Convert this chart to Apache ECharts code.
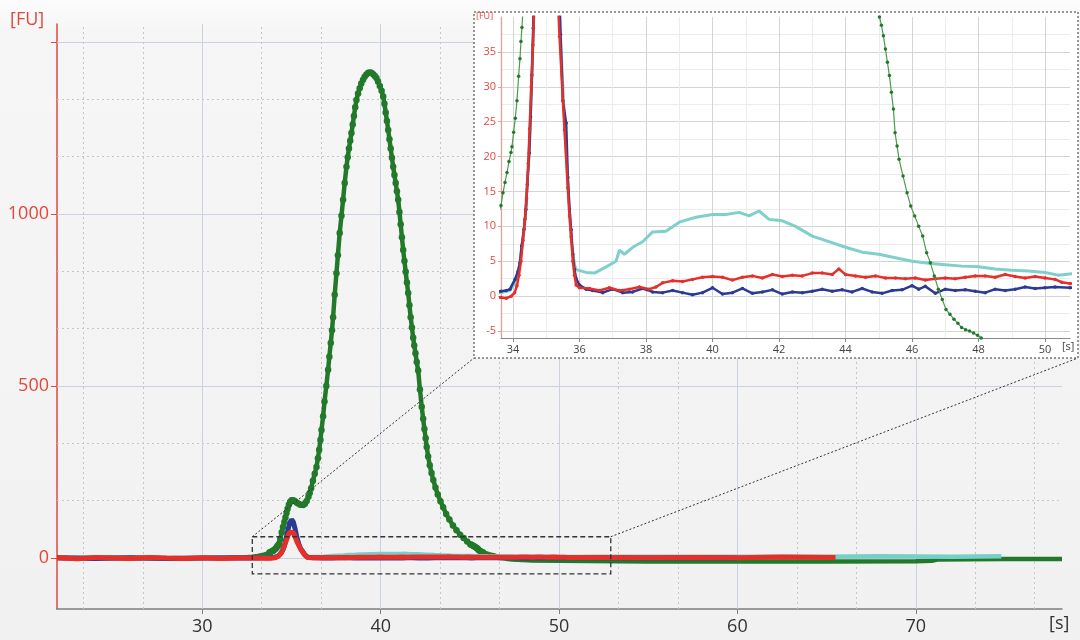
<!DOCTYPE html>
<html>
<head>
<meta charset="utf-8">
<style>
  html, body { margin: 0; padding: 0; background: #f4f4f4; }
  #main { width: 1080px; height: 640px; }
</style>
<script src="https://cdn.jsdelivr.net/npm/echarts@6/dist/echarts.min.js"></script>
</head>
<body>
<div id="main"></div>
<script>
// electropherogram traces, time in [s], signal in [FU]
var greenT = [21.85, 25, 28, 30, 31.5, 32.3, 32.8, 33.1, 33.4, 33.64, 33.7, 33.76, 33.82, 33.88, 33.94, 33.97, 34.02, 34.07, 34.12, 34.17,
  34.21, 34.24, 34.27, 34.3, 34.37, 34.45, 34.52, 34.6, 34.66, 34.72, 34.78, 34.85, 34.92, 35.0, 35.1, 35.2, 35.3, 35.4, 35.5, 35.65,
  35.75, 35.85, 35.95, 36.02, 36.1, 36.2, 36.3, 36.4, 36.48, 36.55, 36.62, 36.68, 36.77, 36.85, 36.95, 37.05, 37.12, 37.2, 37.27, 37.33,
  37.42, 37.52, 37.6, 37.7, 37.8, 37.89, 37.98, 38.08, 38.15, 38.22, 38.29, 38.36, 38.43, 38.5, 38.57, 38.64, 38.73, 38.82, 38.91, 39.01,
  39.1, 39.2, 39.3, 39.39, 39.48, 39.58, 39.67, 39.76, 39.85, 39.95, 40.05, 40.14, 40.21, 40.28, 40.35, 40.42, 40.49, 40.56, 40.63, 40.7,
  40.77, 40.84, 40.91, 40.98, 41.05, 41.12, 41.19, 41.26, 41.33, 41.4, 41.47, 41.54, 41.61, 41.68, 41.75, 41.82, 41.88, 41.95, 42.02, 42.1,
  42.2, 42.3, 42.38, 42.45, 42.52, 42.58, 42.66, 42.75, 42.85, 42.95, 43.07, 43.2, 43.35, 43.5, 43.67, 43.85, 44.05, 44.25, 44.45, 44.65,
  44.85, 45.02, 45.08, 45.14, 45.2, 45.26, 45.32, 45.38, 45.44, 45.49, 45.55, 45.61, 45.73, 45.85, 45.96, 46.08, 46.2, 46.32, 46.44, 46.55,
  46.67, 46.79, 46.91, 47.02, 47.14, 47.26, 47.38, 47.49, 47.61, 47.73, 47.85, 47.97, 48.08, 48.5, 50, 55, 60, 65, 70, 70.9,
  71.2, 75, 78.2];
var greenFU = [0, 1, -1, 0, 1, 2, 4, 6, 9, 13, 14.8, 16.3, 17.7, 19.3, 20.6, 21.4, 23.5, 25.5, 28, 31.5,
  34, 36.5, 38.5, 41, 55, 75, 90, 105, 118, 131, 143, 155, 163, 168, 168, 165, 161, 158, 155, 154,
  158, 166, 178, 189, 203, 225, 245, 265, 290, 315, 343, 372, 412, 455, 500, 547, 585, 625, 662, 700,
  765, 828, 880, 945, 995, 1041, 1090, 1137, 1165, 1190, 1213, 1235, 1260, 1285, 1310, 1331, 1350, 1365, 1379, 1390,
  1399, 1405, 1410, 1411, 1410, 1406, 1401, 1395, 1385, 1372, 1358, 1341, 1320, 1295, 1270, 1244, 1217, 1190, 1163, 1137,
  1113, 1090, 1066, 1041, 1006, 970, 932, 895, 863, 832, 801, 770, 735, 700, 670, 640, 618, 595, 570, 545,
  490, 440, 405, 375, 348, 323, 295, 270, 247, 227, 205, 185, 165, 148, 128, 112, 95, 81, 68, 58,
  48, 40, 38.8, 37.3, 35.4, 33.5, 31.6, 29.2, 26.8, 23.4, 21.5, 19.6, 17.2, 14.8, 12.9, 11.5, 10, 8.6, 6.2, 4.8,
  2.9, 1.0, -0.5, -1.9, -2.6, -3.3, -3.9, -4.5, -4.8, -5.0, -5.3, -5.6, -6.0, -7, -8, -10, -10, -10, -9, -8,
  -4, -3, -3];

var blueT = [21.85, 24, 26, 28, 30, 32, 33, 33.64, 33.8, 33.91, 34.06, 34.15, 34.21, 34.26, 34.33, 34.39, 34.43, 34.49, 34.53, 34.57,
  34.61, 34.7, 34.8, 34.9, 35.0, 35.1, 35.2, 35.3, 35.43, 35.5, 35.6, 35.65, 35.7, 35.75, 35.8, 35.85, 35.9, 36.0, 36.2, 36.4,
  36.7, 37.0, 37.3, 37.6, 37.9, 38.2, 38.5, 38.8, 39.1, 39.4, 39.7, 40.0, 40.3, 40.6, 40.9, 41.2, 41.5, 41.8, 42.1, 42.4,
  42.7, 43.0, 43.3, 43.6, 43.9, 44.2, 44.5, 44.8, 45.1, 45.4, 45.7, 46.0, 46.2, 46.4, 46.7, 47.0, 47.3, 47.6, 47.9, 48.2,
  48.5, 48.8, 49.1, 49.4, 49.7, 50.0, 50.3, 50.75, 52, 55, 58, 60];
var blueFU = [1, -1, 1, -1, 0, 1, 0.5, 0.7, 0.8, 1.0, 2.4, 3.5, 4.8, 7.2, 9.6, 12.4, 16, 20.5, 25.7, 31.7,
  38.4, 58, 82, 102, 112, 105, 85, 60, 37.5, 28, 24.8, 17, 12.5, 9.5, 6, 3.8, 2.5, 1.6, 1.0, 0.8,
  0.5, 1.0, 0.5, 0.6, 1.1, 0.6, 0.5, 0.8, 0.5, 0.2, 0.5, 1.2, 0.3, 0.5, 1.1, 0.4, 0.6, 0.9, 0.3, 0.6,
  0.5, 0.7, 1.0, 0.7, 0.9, 0.6, 1.1, 0.6, 0.4, 0.8, 0.9, 1.5, 1.0, 1.4, 0.4, 1.0, 0.8, 0.9, 0.7, 0.5,
  1.0, 0.8, 1.0, 1.3, 1.1, 1.2, 1.3, 1.2, 1, 0, 1, 0];

var redT = [21.85, 23, 24, 25, 26, 27, 28, 29, 30, 31, 32, 33, 33.64, 33.8, 33.95, 34.05, 34.12, 34.18, 34.24, 34.3,
  34.36, 34.41, 34.46, 34.5, 34.55, 34.6, 34.7, 34.8, 34.9, 35.0, 35.1, 35.2, 35.3, 35.4, 35.5, 35.55, 35.65, 35.7, 35.75, 35.8,
  35.85, 35.9, 36.0, 36.3, 36.6, 36.9, 37.2, 37.5, 37.8, 38.1, 38.3, 38.5, 38.8, 39.1, 39.4, 39.7, 40.0, 40.3, 40.6, 40.9,
  41.2, 41.5, 41.8, 42.1, 42.4, 42.7, 43.0, 43.3, 43.6, 43.8, 44.0, 44.3, 44.6, 44.9, 45.2, 45.5, 45.8, 46.1, 46.4, 46.7,
  47.0, 47.3, 47.6, 47.9, 48.2, 48.5, 48.8, 49.1, 49.4, 49.7, 50.0, 50.3, 50.5, 50.75, 52, 55, 58, 60, 62.5, 65.5];
var redFU = [1, -2, 2, 0, -1, 2, 0, -1, 1, -1, 0, 0, -0.2, -0.3, 0, 0.5, 1.5, 3, 5, 8,
  11, 14, 19, 24, 30, 36, 50, 65, 75, 78, 74, 62, 48, 37.2, 28, 23.8, 15.5, 11.5, 8.5, 5,
  3, 1.6, 1.2, 1.1, 0.8, 1.2, 0.8, 1.0, 1.3, 1.0, 1.3, 1.9, 2.2, 2.1, 2.4, 2.7, 2.8, 2.7, 2.3, 2.7,
  2.9, 2.6, 3.1, 2.8, 3.0, 2.9, 3.3, 3.3, 3.1, 3.9, 3.1, 2.9, 2.7, 2.9, 2.6, 2.6, 2.5, 2.6, 2.3, 2.5,
  2.6, 2.5, 2.7, 2.9, 2.9, 2.7, 3.1, 2.8, 2.6, 2.8, 2.6, 2.4, 2.0, 1.8, 2, 1, 2, 1, 3, 2];

var cyanT = [22, 27, 33, 33.64, 33.9, 34.05, 34.2, 34.35, 34.5, 34.6, 34.7, 34.85, 35.0, 35.15, 35.3, 35.45, 35.55, 35.65, 35.75, 35.85,
  35.9, 36.2, 36.45, 36.8, 37.1, 37.2, 37.35, 37.6, 37.9, 38.2, 38.6, 39.0, 39.5, 40.0, 40.4, 40.8, 41.1, 41.4, 41.7, 42.1,
  42.5, 43.0, 43.5, 44.0, 44.5, 45.0, 45.5, 46.0, 46.5, 47.0, 47.5, 48.0, 48.5, 49.0, 49.5, 50.0, 50.4, 50.8, 52, 55,
  60, 65, 68, 72, 74.8];
var cyanFU = [0, 0, 0.5, 0.5, 0.8, 1.8, 4.5, 10, 22, 36, 55, 70, 75, 68, 50, 35, 25, 16, 8, 4.5,
  3.8, 3.4, 3.3, 4.2, 5.0, 6.6, 6.0, 7.0, 7.8, 9.2, 9.3, 10.6, 11.3, 11.7, 11.7, 12.0, 11.5, 12.2, 11.0, 10.8,
  10.0, 8.6, 7.8, 7.0, 6.3, 6.0, 5.5, 5.0, 4.7, 4.5, 4.3, 4.2, 3.9, 3.7, 3.6, 3.4, 3.0, 3.2, 3.5, 4,
  4, 4, 5, 4, 5];

// tick positions
var mainXTicks = [30, 40, 50, 60, 70];
var mainXMinor = [23.33, 26.67, 33.33, 36.67, 43.33, 46.67, 53.33, 56.67, 63.33, 66.67, 73.33, 76.67];
var mainYTicks = [0, 500, 1000, 1500];
var mainYLabels = [0, 500, 1000];
var mainYMinor = [166.7, 333.3, 666.7, 833.3, 1166.7, 1333.3];
var insetXTicks = [34, 36, 38, 40, 42, 44, 46, 48, 50];
var insetXMinor = [35, 37, 39, 41, 43, 45, 47, 49];
var insetYTicks = [-5, 0, 5, 10, 15, 20, 25, 30, 35];
var insetYMinor = [-2.5, 2.5, 7.5, 12.5, 17.5, 22.5, 27.5, 32.5, 37.5];

// the region of the main plot that the inset magnifies
var zoomT = [32.8, 52.9];
var zoomFU = [-46, 62];

var FONT = '"Open Sans", "Noto Sans", sans-serif';
var RED = '#e2473c';

function pairs(t, v) {
  return t.map(function (x, i) { return [x, v[i]]; });
}

// axis used only to draw grid lines as long inside ticks
function gridAxis(dim, grid, min, max, values, len, color, dashed, z) {
  return {
    type: 'value', gridIndex: grid, min: min, max: max,
    position: dim === 'x' ? 'bottom' : 'left',
    z: z,
    axisLine: { show: false, onZero: false },
    axisLabel: { show: false },
    splitLine: { show: false },
    axisTick: {
      inside: true, length: len, customValues: values,
      lineStyle: { color: color, width: 1, type: dashed ? [2, 3] : 'solid' }
    }
  };
}

var plain = function (v) { return String(v); };

var myChart = echarts.init(document.getElementById('main'));

var mainW = 1005, mainH = 585, insW = 569, insH = 321;

var option = {
  animation: false,
  backgroundColor: new echarts.graphic.LinearGradient(0, 0, 0, 1, [
    { offset: 0, color: '#fcfcfc' }, { offset: 0.05, color: '#f6f6f6' }, { offset: 1, color: '#f1f1f1' }
  ]),
  textStyle: { fontFamily: FONT },
  grid: [
    { left: 57, top: 24, width: mainW, height: mainH },
    { left: 501, top: 17, width: insW, height: insH }
  ],
  xAxis: [
    {
      type: 'value', gridIndex: 0, min: 21.85, max: 78.2, position: 'bottom',
      axisLine: { onZero: false, lineStyle: { color: '#7d7d7d', width: 1.5 } },
      axisTick: { customValues: mainXTicks, length: 5, lineStyle: { color: '#7d7d7d' } },
      axisLabel: { customValues: mainXTicks, formatter: plain, color: '#333', fontSize: 18, margin: 9, fontFamily: FONT },
      splitLine: { show: false }
    },
    gridAxis('x', 0, 21.85, 78.2, mainXTicks, mainH, '#c9d1e2', false, 0),
    gridAxis('x', 0, 21.85, 78.2, mainXMinor, mainH, '#c6c6c6', true, 0),
    {
      type: 'value', gridIndex: 1, min: 33.64, max: 50.75, position: 'bottom', z: 12,
      axisLine: { onZero: false, lineStyle: { color: '#8a8a8a', width: 1 } },
      axisTick: { customValues: insetXTicks, length: 4, lineStyle: { color: '#8a8a8a' } },
      axisLabel: { customValues: insetXTicks, formatter: plain, color: '#444', fontSize: 11, margin: 6, fontFamily: FONT },
      splitLine: { show: false }
    },
    gridAxis('x', 1, 33.64, 50.75, insetXTicks, insH, '#d4d4d4', false, 11),
    gridAxis('x', 1, 33.64, 50.75, insetXMinor, insH, '#ececec', false, 11)
  ],
  yAxis: [
    {
      type: 'value', gridIndex: 0, min: -148, max: 1552, position: 'left',
      axisLine: { onZero: false, lineStyle: { color: RED, width: 1.5 } },
      axisTick: { customValues: mainYTicks, length: 6, lineStyle: { color: RED } },
      axisLabel: { customValues: mainYLabels, formatter: plain, color: RED, fontSize: 18, margin: 8, fontFamily: FONT },
      splitLine: { show: false }
    },
    gridAxis('y', 0, -148, 1552, mainYTicks, mainW, '#c9d1e2', false, 0),
    gridAxis('y', 0, -148, 1552, mainYMinor, mainW, '#c6c6c6', true, 0),
    {
      type: 'value', gridIndex: 1, min: -6, max: 40, position: 'left', z: 12,
      axisLine: { onZero: false, lineStyle: { color: '#f09a8e', width: 1.2 } },
      axisTick: { customValues: insetYTicks, length: 3, lineStyle: { color: '#f09a8e' } },
      axisLabel: { customValues: insetYTicks, formatter: plain, color: RED, fontSize: 11, margin: 5, fontFamily: FONT },
      splitLine: { show: false }
    },
    gridAxis('y', 1, -6, 40, insetYTicks, insW, '#d4d4d4', false, 11),
    gridAxis('y', 1, -6, 40, insetYMinor, insW, '#ececec', false, 11)
  ],
  series: [
    // main plot
    { type: 'line', xAxisIndex: 0, yAxisIndex: 0, z: 2, data: pairs(greenT, greenFU),
      showSymbol: true, showAllSymbol: true, symbol: 'circle',
      symbolSize: function (p) { return Math.abs(p[1]) < 15 ? 0 : 6.5; },
      itemStyle: { color: '#23792a' }, lineStyle: { color: '#23792a', width: 4.5 } },
    { type: 'line', xAxisIndex: 0, yAxisIndex: 0, z: 3, data: pairs(cyanT, cyanFU), showSymbol: false,
      lineStyle: { color: '#78cec8', width: 4.5 } },
    { type: 'line', xAxisIndex: 0, yAxisIndex: 0, z: 4, data: pairs(blueT, blueFU), showSymbol: false,
      lineStyle: { color: '#2c3a94', width: 5 } },
    { type: 'line', xAxisIndex: 0, yAxisIndex: 0, z: 5, data: pairs(redT, redFU), showSymbol: false,
      lineStyle: { color: '#e4302a', width: 5 } },
    // inset
    { type: 'line', xAxisIndex: 3, yAxisIndex: 3, z: 13, data: pairs(cyanT, cyanFU), showSymbol: false,
      lineStyle: { color: '#7fd0cb', width: 3 } },
    { type: 'line', xAxisIndex: 3, yAxisIndex: 3, z: 14, data: pairs(blueT, blueFU),
      showSymbol: true, showAllSymbol: true, symbol: 'circle', symbolSize: 3.5,
      itemStyle: { color: '#2c3a94' }, lineStyle: { color: '#2c3a94', width: 2.5 } },
    { type: 'line', xAxisIndex: 3, yAxisIndex: 3, z: 15, data: pairs(redT, redFU),
      showSymbol: true, showAllSymbol: true, symbol: 'circle', symbolSize: 3.5,
      itemStyle: { color: '#e4302a' }, lineStyle: { color: '#e4302a', width: 2.5 } },
    { type: 'line', xAxisIndex: 3, yAxisIndex: 3, z: 16, data: pairs(greenT, greenFU),
      showSymbol: true, showAllSymbol: true, symbol: 'circle', symbolSize: 3.5,
      itemStyle: { color: '#23792a' }, lineStyle: { color: '#4e9a4e', width: 1.2 } }
  ]
};

myChart.setOption(option);

// zoom box, connector lines, inset frame and unit labels
var tl = myChart.convertToPixel({ xAxisIndex: 0, yAxisIndex: 0 }, [zoomT[0], zoomFU[1]]);
var br = myChart.convertToPixel({ xAxisIndex: 0, yAxisIndex: 0 }, [zoomT[1], zoomFU[0]]);
var inset = { x: 474, y: 12, w: 604, h: 346 };

myChart.setOption({
  graphic: [
    { type: 'rect', z: 10, silent: true,
      shape: { x: inset.x, y: inset.y, width: inset.w, height: inset.h },
      style: { fill: '#ffffff', stroke: '#333', lineWidth: 1, lineDash: [2, 2] } },
    { type: 'rect', z: 8, silent: true,
      shape: { x: tl[0], y: tl[1], width: br[0] - tl[0], height: br[1] - tl[1] },
      style: { fill: 'none', stroke: '#333', lineWidth: 1.3, lineDash: [5, 3] } },
    { type: 'line', z: 8, silent: true,
      shape: { x1: tl[0], y1: tl[1], x2: inset.x, y2: inset.y + inset.h },
      style: { stroke: '#333', lineWidth: 1, lineDash: [2, 2] } },
    { type: 'line', z: 8, silent: true,
      shape: { x1: br[0], y1: tl[1], x2: inset.x + inset.w, y2: inset.y + inset.h },
      style: { stroke: '#333', lineWidth: 1, lineDash: [2, 2] } },
    { type: 'text', z: 9, left: 10, top: 11,
      style: { text: '[FU]', fill: RED, font: '18px ' + FONT } },
    { type: 'text', z: 9, left: 1049, top: 615,
      style: { text: '[s]', fill: '#333', font: '18px ' + FONT } },
    { type: 'text', z: 20, left: 476, top: 12,
      style: { text: '[FU]', fill: RED, font: '9px ' + FONT } },
    { type: 'text', z: 20, left: 1062, top: 341,
      style: { text: '[s]', fill: '#444', font: '11px ' + FONT } }
  ]
});
</script>
</body>
</html>
